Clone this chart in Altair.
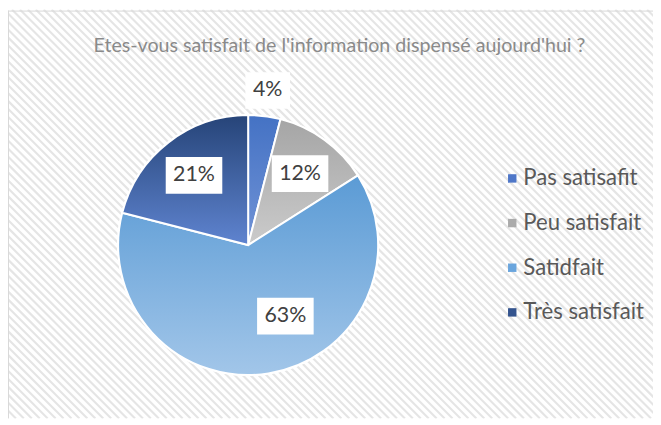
import altair as alt
import pandas as pd

TITLE = ["Etes-vous satisfait de l'information dispensé aujourd'hui ?"]
CATEGORIES = ["Pas satisafit", "Peu satisfait", "Satidfait", "Très satisfait"]
PERCENTS = [4, 12, 63, 21]
LABELS = ["4%", "12%", "63%", "21%"]

SOLID = ["#4f77c8", "#ababab", "#6aa5dd", "#34548e"]
GRAD_TOP = ["#4472c4", "#a5a5a5", "#5b9bd5", "#264478"]
GRAD_BOT = ["#7193d6", "#cbcbcb", "#a2c6e9", "#5f84d0"]

W, H = 650, 412
CX, CY, R = 242, 237.3, 131
FONT = "Lato"

df = pd.DataFrame({"cat": CATEGORIES, "value": PERCENTS, "label": LABELS,
                   "idx": list(range(len(CATEGORIES)))})

# hatched background
hatch = alt.Chart(alt.sequence(0, 140, as_="i")).transform_calculate(
    x0=f"-{H} + datum.i * 8", x1=f"datum.i * 8", y0="0", y1=str(H)
).mark_rule(color="#e5e5e5", strokeWidth=2.2, clip=True).encode(
    x=alt.X("x0:Q", scale=None), x2="x1:Q",
    y=alt.Y("y0:Q", scale=None), y2="y1:Q")

border_top = alt.Chart(pd.DataFrame({"a": [0]})).mark_rule(color="#d9d9d9", strokeWidth=1).encode(
    x=alt.value(0), x2=alt.value(W), y=alt.value(1.5))
border_left = alt.Chart(pd.DataFrame({"a": [0]})).mark_rule(color="#d9d9d9", strokeWidth=1).encode(
    x=alt.value(0.5), y=alt.value(1), y2=alt.value(H))

title = alt.Chart(pd.DataFrame({"t": TITLE})).mark_text(
    font=FONT, fontSize=19.8, color="#8a8a8a", align="center", baseline="middle"
).encode(text="t:N", x=alt.value(334), y=alt.value(37))

theta_scale = alt.Scale(domain=[0, 100])

base = alt.Chart(df).mark_arc(outerRadius=R, stroke="white", strokeWidth=2).encode(
    theta=alt.Theta("value:Q", stack=True, scale=theta_scale),
    color=alt.Color("cat:N", scale=alt.Scale(domain=CATEGORIES, range=SOLID),
                    legend=alt.Legend(title=None, orient="none", legendX=497, legendY=159,
                                      symbolType="square", symbolSize=72, symbolStrokeWidth=0,
                                      labelFont=FONT, labelFontSize=22.3, labelColor="#595959",
                                      rowPadding=22, labelOffset=0)),
    order=alt.Order("idx:Q"),
    x=alt.value(CX), y=alt.value(CY))

cum = alt.Chart(df).transform_window(
    cum="sum(value)", sort=[alt.SortField("idx")], frame=[None, 0]
).transform_calculate(start="datum.cum - datum.value")

grad_layers = []
for c, t, b in zip(CATEGORIES, GRAD_TOP, GRAD_BOT):
    g = alt.Gradient(gradient="linear", x1=0, y1=0, x2=0, y2=1,
                     stops=[alt.GradientStop(offset=0, color=t), alt.GradientStop(offset=1, color=b)])
    grad_layers.append(
        cum.transform_filter(alt.datum.cat == c).mark_arc(
            outerRadius=R, fill=g, stroke="white", strokeWidth=2
        ).encode(theta=alt.Theta("start:Q", scale=theta_scale), theta2="cum:Q",
                 x=alt.value(CX), y=alt.value(CY)))

lab = cum.transform_calculate(
    a="(datum.cum - datum.value / 2) / 100 * 2 * PI",
    rr="datum.value < 5 ? 157 : 89",
    w="12 * length(datum.label) + 21",
).transform_calculate(
    lx=f"{CX} + datum.rr * sin(datum.a)",
    ly=f"{CY} - datum.rr * cos(datum.a)",
).transform_calculate(
    xl="datum.lx - datum.w / 2", xr="datum.lx + datum.w / 2",
    yt="datum.ly - 18.5", yb="datum.ly + 18.5")


def label_layers(filt, dx, dy):
    d = lab.transform_filter(filt)
    box = d.transform_calculate(xl2=f"datum.xl + {dx}", xr2=f"datum.xr + {dx}",
                                yt2=f"datum.yt + {dy}", yb2=f"datum.yb + {dy}").mark_rect(
        fill="white").encode(x=alt.X("xl2:Q", scale=None), x2="xr2:Q",
                             y=alt.Y("yt2:Q", scale=None), y2="yb2:Q")
    txt = d.mark_text(font=FONT, fontSize=21.5, color="#404040", align="center",
                      baseline="middle", dx=dx, dy=dy).encode(
        x=alt.X("lx:Q", scale=None), y=alt.Y("ly:Q", scale=None), text="label:N")
    return [box, txt]


labels = label_layers(alt.datum.cat != "Satidfait", 0, 0) + \
    label_layers(alt.datum.cat == "Satidfait", 23.6, -16.2)

chart = alt.layer(hatch, border_top, border_left, title, base, *grad_layers, *labels).properties(
    width=W, height=H, autosize=alt.AutoSizeParams(type="none"), padding=0,
    background="white"
).configure_view(stroke=None)

chart.save("out.html", embed_options={"renderer": "svg", "actions": False})
